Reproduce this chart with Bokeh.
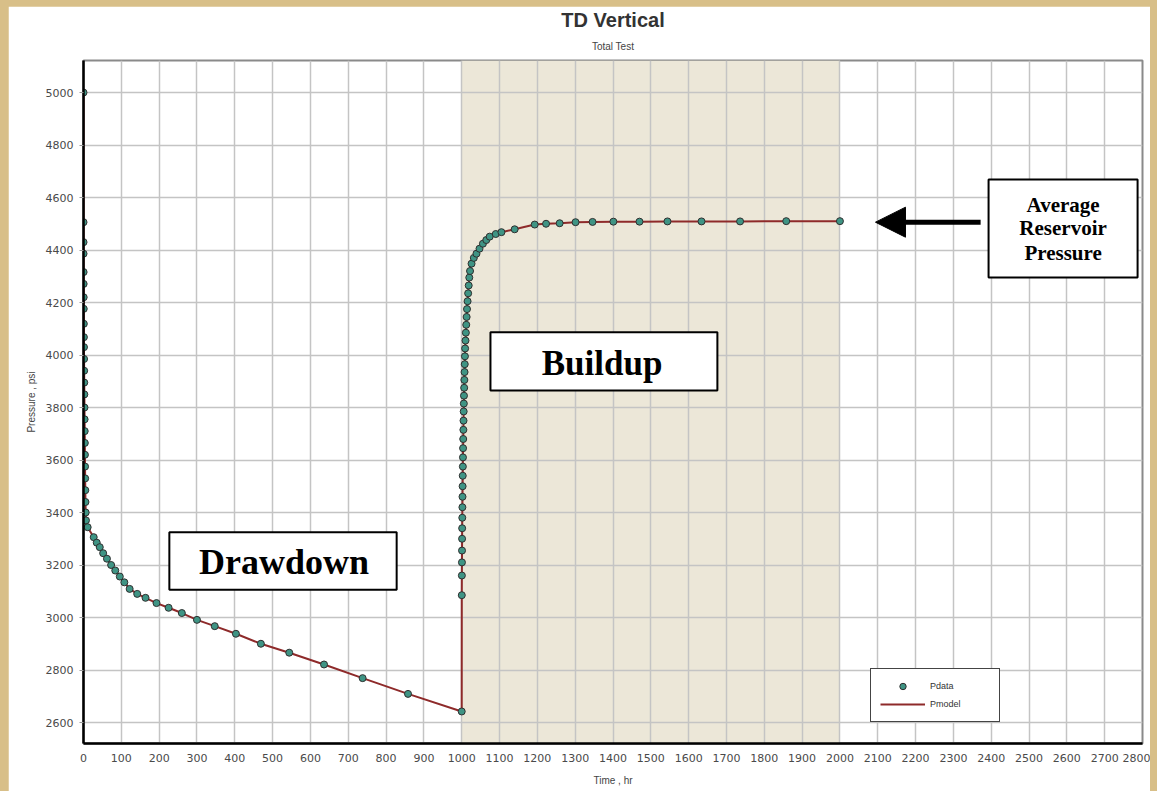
from bokeh.plotting import figure
from bokeh.models import (BoxAnnotation, Label, Arrow, NormalHead, FixedTicker,
                          Legend, LegendItem, Title)
from bokeh.embed import file_html
from bokeh.resources import INLINE

# ---------------- data ----------------
title_text = "TD Vertical"
subtitle_text = "Total Test"
x_label = "Time , hr"
y_label = "Pressure , psi"
x_ticks = list(range(0, 2801, 100))
y_ticks = list(range(2600, 5001, 200))

# drawdown period (time in hr, pressure in psi)
dd_time = [0, 0.05, 0.1, 0.15, 0.25, 0.35, 0.5, 0.65, 0.85, 1.05,
           1.25, 1.5, 1.75, 2.0, 2.3, 2.6, 2.9, 3.2, 3.5, 3.8,
           4.1, 4.4, 4.8, 5.2, 5.8, 6.5, 11, 27, 35, 43,
           52, 62, 73, 84, 96, 108, 122, 142, 164, 193,
           225, 260, 300, 347, 403, 469, 544, 636, 738, 858,
           1000]
dd_pressure = [5000, 4506, 4430, 4386, 4316, 4271, 4220, 4176, 4119, 4068,
               4030, 3985, 3940, 3895, 3850, 3800, 3755, 3710, 3665, 3620,
               3575, 3530, 3485, 3440, 3400, 3370, 3344, 3306, 3285, 3268,
               3245, 3224, 3200, 3179, 3156, 3134, 3109, 3090, 3075, 3055,
               3037, 3017, 2991, 2967, 2938, 2900, 2866, 2821, 2769, 2709,
               2642]

# buildup period
bu_time = [1000.2, 1000.4, 1000.6, 1000.8, 1001, 1001.2, 1001.5, 1001.8, 1002.1, 1002.4,
           1002.7, 1003, 1003.3, 1003.6, 1004, 1004.4, 1004.8, 1005.2, 1005.6, 1006,
           1006.5, 1007, 1007.5, 1008, 1008.5, 1009, 1010, 1011, 1012, 1013,
           1014, 1015.5, 1017, 1018.5, 1020, 1022, 1026, 1032, 1039, 1047,
           1056, 1065, 1074, 1090, 1105, 1140, 1193, 1223, 1259, 1301,
           1346, 1401, 1470, 1544, 1634, 1736, 1858, 2000]
bu_pressure = [3085, 3160, 3210, 3255, 3300, 3340, 3380, 3420, 3460, 3500,
               3540, 3575, 3610, 3645, 3680, 3715, 3750, 3785, 3815, 3845,
               3875, 3905, 3935, 3965, 3995, 4025, 4055, 4085, 4115, 4145,
               4175, 4205, 4235, 4265, 4295, 4320, 4348, 4370, 4386, 4405,
               4424, 4438, 4451, 4461, 4468, 4479, 4497, 4500, 4502, 4506,
               4507, 4508, 4508, 4509, 4509, 4509, 4510, 4510]

buildup_start = 1000
buildup_end = 2000

pdata_time = dd_time + bu_time
pdata_pressure = dd_pressure + bu_pressure
pmodel_time = dd_time + bu_time
pmodel_pressure = dd_pressure + bu_pressure

# ---------------- figure ----------------
p = figure(width=1142, height=785, x_range=(0, 2800), y_range=(2520, 5122),
           output_backend="svg", toolbar_location=None,
           min_border_left=75, min_border_right=8, min_border_top=54, min_border_bottom=48,
           background_fill_color="white", border_fill_color="white")

p.add_layout(Title(text=subtitle_text, align="center", text_font_size="10px",
                   text_font_style="normal", text_color="#444444", standoff=17,
                   text_font="Liberation Sans"), "above")
p.add_layout(Title(text=title_text, align="center", text_font_size="20px",
                   text_font_style="bold", text_color="#333333", standoff=0,
                   text_font="Liberation Sans"), "above")

p.outline_line_color = "#8a8a8a"
p.outline_line_width = 2

for ax in (p.xaxis[0], p.yaxis[0]):
    ax.axis_line_color = "black"
    ax.axis_line_width = 2.5
    ax.major_label_text_font = "DejaVu Sans"
    ax.major_label_text_font_size = "11px"
    ax.major_label_text_color = "#4a4a4a"
    ax.axis_label_text_font = "Liberation Sans"
    ax.axis_label_text_font_size = "10px"
    ax.axis_label_text_font_style = "normal"
    ax.axis_label_text_color = "#444444"
    ax.minor_tick_line_color = None

p.xaxis.ticker = FixedTicker(ticks=x_ticks)
p.yaxis.ticker = FixedTicker(ticks=y_ticks)
p.xaxis.axis_label = x_label
p.yaxis.axis_label = y_label
p.xaxis.major_tick_out = 0
p.xaxis.major_tick_in = 0
p.xaxis.major_label_standoff = 10
p.xaxis.axis_label_standoff = 10
p.yaxis.major_tick_out = 4
p.yaxis.major_tick_in = 0
p.yaxis.major_tick_line_color = "#999999"
p.yaxis.major_label_standoff = 6
p.yaxis.axis_label_standoff = 6

p.xgrid.ticker = FixedTicker(ticks=x_ticks)
p.ygrid.ticker = FixedTicker(ticks=y_ticks)
p.grid.grid_line_color = "#c4c4c4"
p.grid.grid_line_width = 1.5

# shaded buildup period
p.add_layout(BoxAnnotation(left=buildup_start, right=buildup_end,
                           fill_color="#ece7d8", fill_alpha=1.0,
                           line_color=None, level="image"))

# data & model
r_line = p.line(pmodel_time, pmodel_pressure, line_color="#8e2a2a", line_width=2)
r_pts = p.scatter(pdata_time, pdata_pressure, marker="circle", size=7,
                  fill_color="#3f9484", line_color="#2f2f2f", line_width=1)

legend = Legend(items=[LegendItem(label="Pdata", renderers=[r_pts]),
                       LegendItem(label="Pmodel", renderers=[r_line])],
                location=(787, 21), orientation="vertical")
legend.label_text_font = "Liberation Sans"
legend.label_text_font_size = "9px"
legend.label_text_color = "#333333"
legend.glyph_width = 45
legend.glyph_height = 16
legend.label_height = 16
legend.label_width = 60
legend.spacing = 2
legend.padding = 9
legend.margin = 0
legend.border_line_color = "#444444"
legend.border_line_width = 1.5
legend.border_line_alpha = 1.0
legend.background_fill_color = "white"
legend.background_fill_alpha = 1.0
p.add_layout(legend, "center")

# annotation boxes
def text_box(left, right, bottom, top):
    p.add_layout(BoxAnnotation(left=left, right=right, bottom=bottom, top=top,
                               fill_color="white", fill_alpha=1.0,
                               line_color="black", line_alpha=1.0, line_width=2))

def serif_label(x, y, txt, size):
    p.add_layout(Label(x=x, y=y, text=txt, text_font="Liberation Serif",
                       text_font_style="bold", text_font_size=size, text_color="black",
                       text_align="center", text_baseline="middle"))

text_box(227, 828, 3106, 3325)
serif_label(530, 3211, "Drawdown", "36px")

text_box(1076, 1676, 3865, 4087)
serif_label(1371, 3966, "Buildup", "35px")

text_box(2393, 2787, 4295, 4669)
for txt, yy in (("Average", 4573), ("Reservoir", 4484), ("Pressure", 4390)):
    serif_label(2590, yy, txt, "21px")

p.add_layout(Arrow(end=NormalHead(size=30, fill_color="black", line_color="black"),
                   x_start=2372, y_start=4506, x_end=2094, y_end=4506,
                   line_color="black", line_width=5))

html = file_html(p, INLINE)
css = ("<style>html, body { background-color: #d8bf88 !important; } "
       "body { padding: 6px 7px 0 8px !important; box-sizing: border-box; }</style>")
html = html.replace("</head>", css + "</head>", 1)
open("out.html", "w").write(html)
